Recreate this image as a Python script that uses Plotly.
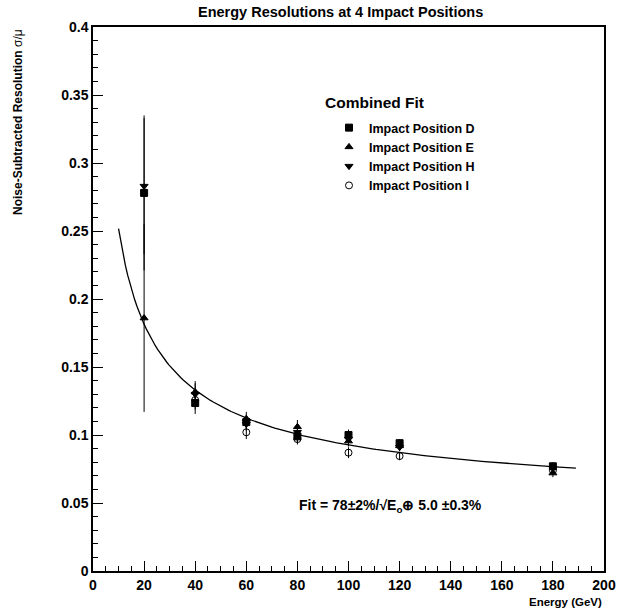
import numpy as np
import plotly.graph_objects as go

energy = [20, 40, 60, 80, 100, 120, 180]
res_D = [0.278, 0.1235, 0.1095, 0.099, 0.100, 0.094, 0.077]
err_D = [0.057, 0.008, 0.005, 0.005, 0.004, 0.003, 0.003]
res_E = [0.186, 0.1316, 0.112, 0.106, 0.0955, 0.092, 0.072]
err_E = [0.069, 0.008, 0.005, 0.005, 0.004, 0.003, 0.003]
res_H = [0.283, 0.130, 0.108, 0.102, 0.097, 0.091, 0.0755]
err_H = [0.050, 0.008, 0.005, 0.005, 0.004, 0.003, 0.003]
energy_I = [40, 60, 80, 100, 120, 180]
res_I = [0.1257, 0.102, 0.097, 0.087, 0.0845, 0.074]
err_I = [0.007, 0.005, 0.004, 0.004, 0.003, 0.003]

# fit parameters: stochastic 78%, constant 5.0%
fit_a = 0.78
fit_b = 0.050
fit_e = np.linspace(10, 189, 200)
fit_r = np.sqrt((fit_a / np.sqrt(fit_e)) ** 2 + fit_b ** 2)

FONT = "Liberation Sans, Arial, sans-serif"

fig = go.Figure()
fig.add_trace(go.Scatter(x=fit_e, y=fit_r, mode="lines",
                         line=dict(color="black", width=1.3),
                         showlegend=False, hoverinfo="skip"))

series = [
    ("Impact Position D", energy, res_D, err_D, "square", "black"),
    ("Impact Position E", energy, res_E, err_E, "triangle-up", "black"),
    ("Impact Position H", energy, res_H, err_H, "triangle-down", "black"),
    ("Impact Position I", energy_I, res_I, err_I, "circle-open", "black"),
]
for name, xs, ys, es, sym, col in series:
    fig.add_trace(go.Scatter(
        x=xs, y=ys, mode="markers", name=name,
        marker=dict(symbol=sym, size=7, color=col,
                    line=dict(color="black", width=1)),
        error_y=dict(type="data", array=es, visible=True,
                     color="black", thickness=1, width=0),
    ))

W, H = 628, 612
L, R, T, B = 93, 24, 27, 41
PH = H - T - B
PW = W - L - R


def py(y_px):
    return (H - B - y_px) / PH


def px(x_px):
    return (x_px - L) / PW


fig.update_layout(
    width=W, height=H,
    margin=dict(l=L, r=R, t=T, b=B),
    paper_bgcolor="white", plot_bgcolor="white",
    font=dict(family=FONT, color="black"),
    legend=dict(x=px(329), y=py(113), xanchor="left", yanchor="top",
                font=dict(size=12.5, family=FONT, weight="bold"),
                bgcolor="rgba(0,0,0,0)", tracegroupgap=0),
    xaxis=dict(range=[0, 200], dtick=20, tick0=0, automargin=False,
               showline=True, linecolor="black", linewidth=1.5, mirror=True,
               ticks="inside", ticklen=10, tickcolor="black",
               minor=dict(dtick=5, ticks="inside", ticklen=5, tickcolor="black"),
               showgrid=False, zeroline=False,
               tickfont=dict(size=14, family=FONT, weight="bold")),
    yaxis=dict(range=[0, 0.4], dtick=0.05, tick0=0, automargin=False,
               showline=True, linecolor="black", linewidth=1.5, mirror=True,
               ticks="inside", ticklen=10, tickcolor="black",
               minor=dict(dtick=0.01, ticks="inside", ticklen=5, tickcolor="black"),
               showgrid=False, zeroline=False,
               tickfont=dict(size=14, family=FONT, weight="bold")),
    annotations=[
        dict(text="<b>Energy Resolutions at 4 Impact Positions</b>",
             xref="paper", yref="paper", x=px(340), y=py(12),
             xanchor="center", yanchor="middle", showarrow=False,
             font=dict(size=14.5, family=FONT)),
        dict(text="<b>Noise-Subtracted Resolution</b> σ/μ",
             xref="paper", yref="paper", x=px(18),
             y=py(122), textangle=-90,
             xanchor="center", yanchor="middle", showarrow=False,
             font=dict(size=12, family=FONT)),
        dict(text="<b>Energy (GeV)</b>",
             xref="paper", yref="paper", x=px(604), y=py(602),
             xanchor="right", yanchor="middle", showarrow=False,
             font=dict(size=11.5, family=FONT)),
        dict(text="<b>Combined Fit</b>",
             xref="paper", yref="paper", x=px(323),
             y=py(103), xanchor="left", yanchor="middle",
             showarrow=False, font=dict(size=15.5, family=FONT)),
        dict(text="<b>Fit = 78±2%/√E<sub>o</sub>⊕ 5.0 ±0.3%</b>",
             xref="paper", yref="paper", x=px(390),
             y=py(506), xanchor="center", yanchor="middle",
             showarrow=False, font=dict(size=14, family=FONT)),
    ],
)

fig.write_html(
    "out.html",
    config={"displayModeBar": False},
    post_script="document.body.style.margin='0';document.body.style.overflow='hidden';",
)
